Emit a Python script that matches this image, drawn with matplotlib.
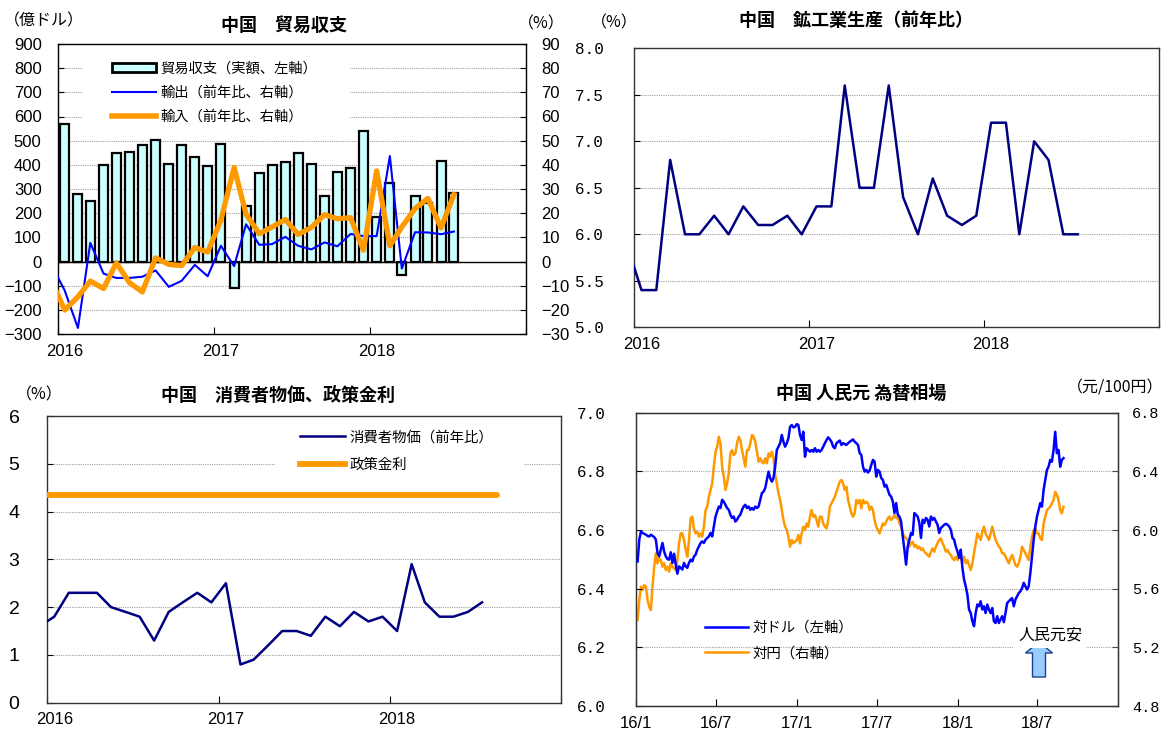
import numpy as np
import pandas as pd
import matplotlib
matplotlib.use("Agg")
import matplotlib.pyplot as plt
import matplotlib.dates as mdates
import matplotlib.transforms as mtransforms
from matplotlib.patches import Patch, FancyArrow, Rectangle
from matplotlib.lines import Line2D

plt.rcParams['font.family'] = ['Noto Sans CJK JP', 'DejaVu Sans']

# ---------------- data ----------------
# monthly series start in Dec 2015 so the lines run in from the left edge
months = pd.date_range("2015-12-01", "2018-07-01", freq="MS") + pd.Timedelta(days=15)

# trade balance (100 mn USD), Jan 2016 .. Jul 2018
trade_balance = [570, 281, 250, 400, 450, 455, 484, 502, 405, 483, 432, 397,
                 488, -110, 228, 367, 401, 412, 450, 403, 273, 370, 385, 539,
                 185, 324, -55, 272, 241, 415, 283]
# exports / imports, % y/y, Dec 2015 .. Jul 2018
exports_yoy = [-1.4, -12.0, -27.5, 7.7, -5.0, -6.8, -6.8, -6.3, -3.7, -10.5, -8.0, -1.4,
               -6.1, 6.5, -1.9, 15.4, 6.9, 7.2, 10.2, 6.5, 5.0, 7.9, 6.3, 11.4,
               10.5, 10.5, 43.6, -2.9, 12.1, 12.0, 11.3, 12.4]
imports_yoy = [-8.0, -20.1, -14.6, -8.1, -11.2, -0.6, -8.8, -12.6, 1.5, -1.2, -1.7, 5.8,
               3.9, 17.1, 38.9, 19.6, 11.5, 14.3, 17.4, 11.2, 14.1, 19.4, 17.7, 18.1,
               4.7, 37.5, 6.5, 14.3, 21.9, 26.1, 13.9, 27.7]

# industrial production, % y/y, Dec 2015 .. Jul 2018
industrial_yoy = [5.9, 5.4, 5.4, 6.8, 6.0, 6.0, 6.2, 6.0, 6.3, 6.1, 6.1, 6.2,
                  6.0, 6.3, 6.3, 7.6, 6.5, 6.5, 7.6, 6.4, 6.0, 6.6, 6.2, 6.1,
                  6.2, 7.2, 7.2, 6.0, 7.0, 6.8, 6.0, 6.0]

# CPI, % y/y, Dec 2015 .. Jul 2018
cpi_yoy = [1.6, 1.8, 2.3, 2.3, 2.3, 2.0, 1.9, 1.8, 1.3, 1.9, 2.1, 2.3,
           2.1, 2.5, 0.8, 0.9, 1.2, 1.5, 1.5, 1.4, 1.8, 1.6, 1.9, 1.7,
           1.8, 1.5, 2.9, 2.1, 1.8, 1.8, 1.9, 2.1]
policy_rate = 4.35
policy_span = ["2015-12-16", "2018-08-16"]

# CNY per USD and CNY per 100 JPY, sampled every few days, Jan 2016 .. Aug 2018
cny_usd = [
    6.493, 6.567, 6.595, 6.590, 6.587, 6.584, 6.580, 6.578, 6.584, 6.580, 6.576, 6.567,
    6.522, 6.510, 6.533, 6.556, 6.527, 6.510, 6.501, 6.499, 6.524, 6.488, 6.519, 6.482,
    6.451, 6.476, 6.471, 6.465, 6.488, 6.476, 6.471, 6.488, 6.499, 6.493, 6.510, 6.516,
    6.533, 6.544, 6.556, 6.561, 6.556, 6.567, 6.573, 6.578, 6.590, 6.578, 6.612, 6.646,
    6.663, 6.680, 6.675, 6.703, 6.697, 6.686, 6.675, 6.669, 6.652, 6.641, 6.646, 6.629,
    6.635, 6.646, 6.652, 6.669, 6.680, 6.686, 6.675, 6.680, 6.669, 6.675, 6.669, 6.680,
    6.675, 6.680, 6.703, 6.726, 6.731, 6.743, 6.771, 6.799, 6.777, 6.765, 6.777, 6.816,
    6.873, 6.884, 6.896, 6.924, 6.901, 6.884, 6.896, 6.913, 6.952, 6.958, 6.950, 6.952,
    6.961, 6.958, 6.924, 6.907, 6.935, 6.850, 6.879, 6.873, 6.867, 6.873, 6.867, 6.879,
    6.867, 6.873, 6.867, 6.873, 6.884, 6.896, 6.907, 6.916, 6.909, 6.901, 6.884, 6.879,
    6.896, 6.901, 6.905, 6.890, 6.896, 6.893,
    6.890, 6.896, 6.901, 6.905, 6.909, 6.901, 6.896, 6.890, 6.862, 6.856, 6.816, 6.799,
    6.805, 6.796, 6.803, 6.822, 6.839, 6.833, 6.782, 6.805, 6.799, 6.777, 6.771, 6.748,
    6.754, 6.737, 6.720, 6.714, 6.697, 6.658, 6.692, 6.652, 6.646, 6.629, 6.578, 6.533,
    6.482, 6.544, 6.567, 6.590, 6.584, 6.658, 6.652, 6.646, 6.624, 6.573, 6.635, 6.624,
    6.641, 6.635, 6.612, 6.646, 6.635, 6.641, 6.629, 6.618, 6.590, 6.607, 6.612, 6.618,
    6.621, 6.618, 6.612, 6.601, 6.573, 6.567, 6.544, 6.527, 6.505, 6.533, 6.471, 6.431,
    6.408, 6.380, 6.329, 6.317, 6.289, 6.272, 6.317, 6.346, 6.340, 6.357, 6.329, 6.340,
    6.317, 6.346, 6.329, 6.317, 6.334, 6.289, 6.283, 6.306, 6.283, 6.295, 6.306, 6.286,
    6.317, 6.351, 6.357, 6.363, 6.368, 6.340, 6.363, 6.374, 6.385, 6.391, 6.402, 6.420,
    6.408, 6.397, 6.408, 6.454, 6.510, 6.567, 6.612, 6.646, 6.669, 6.692, 6.680, 6.737,
    6.771, 6.805, 6.816, 6.839, 6.833, 6.873, 6.935, 6.862, 6.873, 6.816, 6.839, 6.845,
]
cny_100jpy = [
    5.386, 5.523, 5.614, 5.591, 5.625, 5.614, 5.523, 5.477, 5.455, 5.614, 5.750, 5.841,
    5.773, 5.807, 5.795, 5.750, 5.773, 5.727, 5.750, 5.716, 5.773, 5.750, 5.739, 5.727,
    5.795, 5.909, 5.977, 5.977, 5.932, 5.864, 5.818, 5.932, 6.080, 6.091, 6.011, 5.977,
    5.989, 5.955, 5.977, 5.955, 6.023, 6.136, 6.159, 6.227, 6.273, 6.318, 6.432, 6.534,
    6.568, 6.636, 6.591, 6.432, 6.364, 6.273, 6.318, 6.386, 6.523, 6.545, 6.511, 6.523,
    6.591, 6.636, 6.614, 6.545, 6.489, 6.432, 6.545, 6.545, 6.591, 6.648, 6.636, 6.602,
    6.534, 6.466, 6.489, 6.466, 6.455, 6.489, 6.455, 6.523, 6.500, 6.534, 6.489, 6.375,
    6.318, 6.250, 6.205, 6.136, 6.068, 6.023, 6.000, 5.955, 5.886, 5.932, 5.909, 5.920,
    5.932, 5.966, 5.909, 5.977, 6.023, 6.000, 6.045, 6.023, 6.091, 6.136, 6.091, 6.102,
    6.068, 6.023, 6.091, 6.091, 6.045, 6.023, 6.011, 6.068, 6.159, 6.182, 6.205, 6.227,
    6.261, 6.295, 6.330, 6.341, 6.318, 6.273,
    6.295, 6.205, 6.159, 6.114, 6.091, 6.114, 6.205, 6.182, 6.205, 6.148, 6.205, 6.182,
    6.193, 6.182, 6.136, 6.159, 6.136, 6.068, 6.023, 6.000, 5.977, 6.011, 6.045, 6.034,
    6.057, 6.080, 6.091, 6.068, 6.080, 6.102, 6.080, 6.091, 6.045, 6.023, 5.977, 5.955,
    5.943, 5.932, 5.886, 5.909, 5.920, 5.886, 5.898, 5.875, 5.886, 5.864, 5.875, 5.852,
    5.841, 5.830, 5.818, 5.852, 5.875, 5.852, 5.886, 5.909, 5.932, 5.943, 5.909, 5.886,
    5.852, 5.864, 5.841, 5.830, 5.807, 5.795, 5.818, 5.795, 5.818, 5.807, 5.784, 5.818,
    5.773, 5.795, 5.761, 5.727, 5.773, 5.841, 5.909, 5.977, 5.955, 5.932, 5.989, 6.023,
    5.977, 5.955, 5.932, 5.977, 6.023, 5.977, 5.932, 5.909, 5.886, 5.875, 5.841, 5.841,
    5.818, 5.795, 5.773, 5.807, 5.830, 5.795, 5.761, 5.750, 5.773, 5.818, 5.886, 5.864,
    5.841, 5.818, 5.795, 5.886, 5.955, 6.000, 6.011, 5.977, 5.977, 5.943, 5.932, 6.045,
    6.091, 6.136, 6.148, 6.159, 6.182, 6.205, 6.261, 6.239, 6.205, 6.136, 6.114, 6.159,
]
fx_dates = pd.date_range("2016-01-04", "2018-08-30", periods=len(cny_usd))
fx_ticks = pd.date_range("2016-01-01", "2018-07-01", freq="6MS")

# ---------------- styling helpers ----------------
W, H = 1163, 729
NAVY = '#000080'
BLUE = '#0000FF'
ORANGE = '#FF9900'
GRID = dict(color='#A0A0A0', linestyle=(0, (1, 1)), linewidth=0.8)
NUM = ['Liberation Sans', 'DejaVu Sans']
NARROW = ['Liberation Sans Narrow', 'Liberation Sans', 'DejaVu Sans']
MONO = ['Liberation Mono', 'DejaVu Sans Mono']
CJK = ['Noto Sans CJK JP', 'DejaVu Sans']

fig = plt.figure(figsize=(W / 100, H / 100), dpi=100)


def add_axes(x0, y0, x1, y1):
    # box given as image pixels (left, top, right, bottom)
    return fig.add_axes([x0 / W, 1 - y1 / H, (x1 - x0) / W, (y1 - y0) / H])


def put_text(x, y, s, size=11.5, weight='normal', ha='center'):
    fig.text(x / W, 1 - y / H, s, fontsize=size, fontweight=weight,
             ha=ha, va='center', family=CJK)


def set_font(labels, family):
    for lab in labels:
        lab.set_family(family)


def year_axis(ax):
    ax.set_xlim(pd.Timestamp("2016-01-01"), pd.Timestamp("2019-01-01"))
    ax.xaxis.set_major_locator(mdates.YearLocator())
    ax.xaxis.set_major_formatter(plt.NullFormatter())
    ax.xaxis.set_minor_locator(mdates.MonthLocator(bymonth=1, bymonthday=16))
    ax.xaxis.set_minor_formatter(mdates.DateFormatter('%Y'))
    ax.tick_params(axis='x', which='major', direction='in', length=5)
    ax.tick_params(axis='x', which='minor', length=0, pad=7, labelsize=12)
    set_font(ax.get_xticklabels(minor=True), NUM)


def frame(ax):
    for sp in ax.spines.values():
        sp.set_linewidth(1.0)
        sp.set_color('#333333')
    ax.tick_params(axis='y', direction='in', length=4)


def hgrid(ax, levels):
    for v in levels:
        ax.axhline(v, zorder=0, **GRID)


def legend_backdrop(ax, x0, y0, x1, y1):
    # white panel behind a legend, given in axes fractions
    ax.add_patch(Rectangle((x0, y0), x1 - x0, y1 - y0, transform=ax.transAxes,
                           facecolor='white', edgecolor='none', zorder=1))


# ---------------- 1) trade balance ----------------
ax1 = add_axes(58.3, 44, 526, 334)
frame(ax1)
ax1.bar(months[1:], trade_balance, width=21, color='#CCFFFF',
        edgecolor='black', linewidth=1.6, zorder=2)
ax1.set_ylim(-300, 900)
ax1.set_yticks(np.arange(-300, 901, 100))
hgrid(ax1, np.arange(-200, 900, 100))
ax1.axhline(0, color='black', linewidth=1.0, zorder=3)
year_axis(ax1)
ax1.tick_params(axis='y', labelsize=12, pad=12)
set_font(ax1.get_yticklabels(), NUM)
legend_backdrop(ax1, 0.053, 0.71, 0.624, 0.972)

ax1r = ax1.twinx()
ax1r.plot(months, exports_yoy, color=BLUE, linewidth=1.5, zorder=4)
ax1r.plot(months, imports_yoy, color=ORANGE, linewidth=3.8, zorder=5)
ax1r.set_ylim(-30, 90)
ax1r.set_yticks(np.arange(-30, 91, 10))
ax1r.tick_params(axis='y', direction='in', length=4, labelsize=12, pad=11)
set_font(ax1r.get_yticklabels(), NUM)
ax1r.set_xlim(ax1.get_xlim())

handles = [Patch(facecolor='#CCFFFF', edgecolor='black', linewidth=2),
           Line2D([], [], color=BLUE, linewidth=1.5),
           Line2D([], [], color=ORANGE, linewidth=4)]
labels = ['貿易収支（実額、左軸）', '輸出（前年比、右軸）', '輸入（前年比、右軸）']
ax1r.legend(handles, labels, loc='upper left', bbox_to_anchor=(0.09, 0.98),
            frameon=False, handlelength=3.1, handleheight=0.6,
            handletextpad=0.3, labelspacing=0.72, borderpad=0.3,
            prop={'family': CJK, 'size': 10.3})

put_text(284, 25, '中国　貿易収支', size=13, weight='bold')
put_text(44, 21, '（億ドル）')
put_text(541, 24, '（%）')

# ---------------- 2) industrial production ----------------
ax2 = add_axes(634.3, 48.3, 1158.5, 327.3)
frame(ax2)
ax2.plot(months, industrial_yoy, color=NAVY, linewidth=1.8, zorder=3)
ax2.set_ylim(5.0, 8.0)
ax2.set_yticks(np.arange(5.0, 8.01, 0.5))
ax2.yaxis.set_major_formatter(matplotlib.ticker.FormatStrFormatter('%.1f'))
hgrid(ax2, np.arange(5.5, 8.0, 0.5))
year_axis(ax2)
ax2.tick_params(axis='y', labelsize=11.5, pad=22)
set_font(ax2.get_yticklabels(), MONO)

put_text(856, 21, '中国　鉱工業生産（前年比）', size=13, weight='bold')
put_text(614, 23, '（%）')

# ---------------- 3) CPI and policy rate ----------------
ax3 = add_axes(47.2, 416, 561.3, 702.7)
frame(ax3)
ax3.plot(months, cpi_yoy, color=NAVY, linewidth=1.8, zorder=3)
ax3.plot(pd.to_datetime(policy_span), [policy_rate, policy_rate], color=ORANGE,
         linewidth=4.2, solid_capstyle='round', zorder=3)
ax3.set_ylim(0, 6)
ax3.set_yticks(np.arange(0, 7, 1))
hgrid(ax3, np.arange(1, 6, 1))
year_axis(ax3)
ax3.tick_params(axis='y', labelsize=14, pad=20)
set_font(ax3.get_yticklabels(), NARROW)
legend_backdrop(ax3, 0.443, 0.742, 0.927, 0.969)

handles3 = [Line2D([], [], color=NAVY, linewidth=1.8),
            Line2D([], [], color=ORANGE, linewidth=4.2)]
ax3.legend(handles3, ['消費者物価（前年比）', '政策金利'], loc='upper left',
           bbox_to_anchor=(0.47, 0.99), frameon=False, handlelength=3.1,
           handletextpad=0.3, labelspacing=0.95, borderpad=0.3,
           prop={'family': CJK, 'size': 10.4})

put_text(278, 395, '中国　消費者物価、政策金利', size=13, weight='bold')
put_text(39, 395, '（%）')

# ---------------- 4) yuan exchange rate ----------------
ax4 = add_axes(636.3, 412.7, 1118, 706)
frame(ax4)
ax4.plot(fx_dates, cny_usd, color=BLUE, linewidth=1.8, zorder=4)
ax4.set_ylim(6.0, 7.0)
ax4.set_yticks(np.arange(6.0, 7.01, 0.2))
ax4.yaxis.set_major_formatter(matplotlib.ticker.FormatStrFormatter('%.1f'))
hgrid(ax4, np.arange(6.2, 6.9, 0.2))
ax4.set_xlim(pd.Timestamp("2016-01-01"), pd.Timestamp("2019-01-01"))
ax4.set_xticks(fx_ticks)
ax4.set_xticklabels([f"{d:%y}/{d.month}" for d in fx_ticks])
ax4.tick_params(axis='x', direction='in', length=5, labelsize=12, pad=7)
set_font(ax4.get_xticklabels(), NUM)
ax4.tick_params(axis='y', labelsize=11.5, pad=22)
set_font(ax4.get_yticklabels(), MONO)

ax4r = ax4.twinx()
ax4r.plot(fx_dates, cny_100jpy, color=ORANGE, linewidth=1.8, zorder=3)
ax4r.set_ylim(4.8, 6.8)
ax4r.set_yticks(np.arange(4.8, 6.81, 0.4))
ax4r.yaxis.set_major_formatter(matplotlib.ticker.FormatStrFormatter('%.1f'))
ax4r.tick_params(axis='y', direction='in', length=4, labelsize=11, pad=10)
set_font(ax4r.get_yticklabels(), MONO)
ax4.set_zorder(ax4r.get_zorder() + 1)
ax4.patch.set_visible(False)
legend_backdrop(ax4r, 0.124, 0.14, 0.4685, 0.327)

handles4 = [Line2D([], [], color=BLUE, linewidth=1.8),
            Line2D([], [], color=ORANGE, linewidth=1.8)]
ax4.legend(handles4, ['対ドル（左軸）', '対円（右軸）'], loc='upper left',
           bbox_to_anchor=(0.118, 0.33), frameon=False, handlelength=3.0,
           handletextpad=0.3, labelspacing=0.8, borderpad=0.3,
           prop={'family': CJK, 'size': 10.4})

# depreciation marker: up arrow with label
fig.text(1050 / W, 1 - 635 / H, '人民元安', fontsize=11.5, ha='center', va='center',
         family=CJK, bbox=dict(facecolor='white', edgecolor='none', pad=3))
fig.patches.append(FancyArrow(1039, H - 677, 0, 35, width=13, head_width=27,
                              head_length=11, length_includes_head=True,
                              facecolor='#99CCFF', edgecolor='#1F3F8F', linewidth=1,
                              transform=mtransforms.IdentityTransform(),
                              figure=fig))

put_text(861, 393, '中国 人民元 為替相場', size=13, weight='bold')
put_text(1115, 388, '（元/100円）')

fig.savefig('out.png', dpi=100)
